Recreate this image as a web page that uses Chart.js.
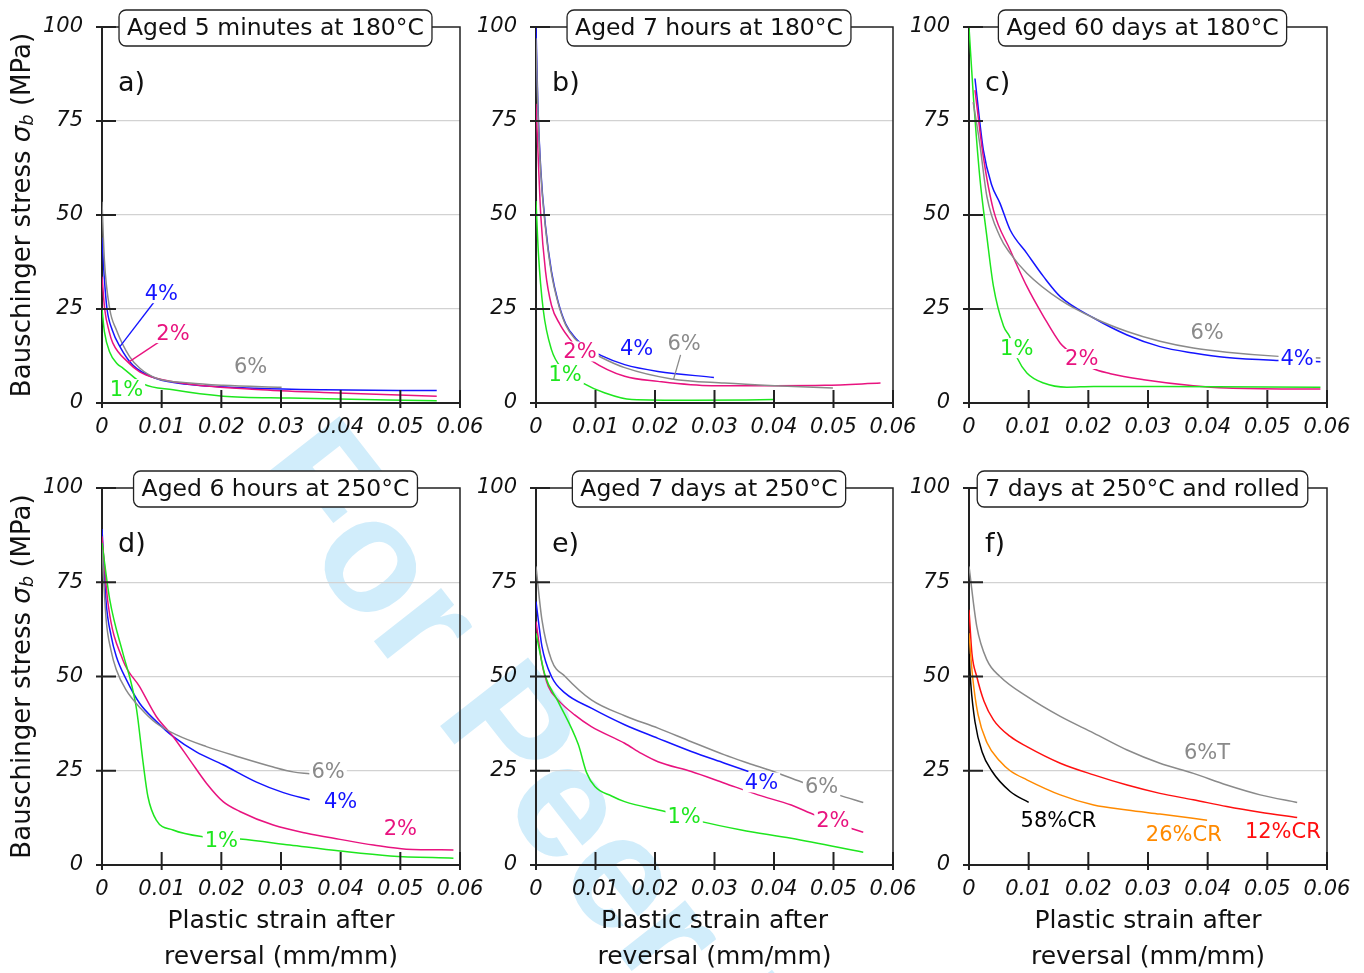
<!DOCTYPE html>
<html>
<head>
<meta charset="utf-8">
<script src="https://cdn.jsdelivr.net/npm/chart.js@4.4.1/dist/chart.umd.min.js"></script>
<style>
  body { margin: 0; width: 1364px; height: 973px; overflow: hidden; background: #fff; position: relative; }
  canvas { position: absolute; left: 0; top: 0; }
  #wm {
    position: absolute; left: 353px; top: 392px;
    transform-origin: 0 0; transform: rotate(52deg);
    font: bold 162px "Liberation Sans", Arial, sans-serif; line-height: 1;
    color: #d1edfb; white-space: nowrap;
  }
</style>
</head>
<body>
<div id="wm">For Peer Review</div>
<canvas id="c0" width="1364" height="973"></canvas>
<canvas id="c1" width="1364" height="973"></canvas>
<canvas id="c2" width="1364" height="973"></canvas>
<canvas id="c3" width="1364" height="973"></canvas>
<canvas id="c4" width="1364" height="973"></canvas>
<canvas id="c5" width="1364" height="973"></canvas>
<script>
// =========================
// DATA  [strain (mm/mm), Bauschinger stress (MPa)]
// =========================
const xTickValues = [0, 0.01, 0.02, 0.03, 0.04, 0.05, 0.06];
const xTickLabels = ["0", "0.01", "0.02", "0.03", "0.04", "0.05", "0.06"];
const yTickValues = [0, 25, 50, 75, 100];
const yTickLabels = ["0", "25", "50", "75", "100"];

// a) aged 5 minutes at 180°C
const a1 = [[0,25],[0.0004,19],[0.0013,13.5],[0.0025,10.5],[0.0035,9.3],[0.0069,5.1],[0.0119,3.5],[0.0203,1.8],[0.0315,1.3],[0.0561,0.6]];
const a2 = [[0,33.6],[0.00045,25],[0.0012,19],[0.0018,16],[0.0044,10.8],[0.0063,8.3],[0.0091,6.6],[0.0147,5.0],[0.0259,3.6],[0.0371,2.8],[0.0561,1.8]];
const a4 = [[0,44],[0.0004,33],[0.00084,25],[0.0017,19.5],[0.003,15],[0.0052,10],[0.0091,6.5],[0.0147,4.9],[0.0259,3.9],[0.0371,3.5],[0.0561,3.3]];
const a6 = [[0,53.5],[0.0004,38],[0.0013,25],[0.0024,19.5],[0.0046,12.4],[0.0063,9.3],[0.0091,6.6],[0.0147,5.3],[0.0203,4.7],[0.0301,4.2]];

// b) aged 7 hours at 180°C
const b1 = [[0,53.7],[0.0004,40],[0.0012,25],[0.0026,14.2],[0.0045,9],[0.0079,5.3],[0.0116,2.65],[0.0161,0.9],[0.0261,0.7],[0.0399,0.9]];
const b2 = [[0,79.6],[0.0003,68],[0.0008,50],[0.0016,35],[0.0026,26],[0.004,21],[0.0054,17.6],[0.0074,13.8],[0.0093,11.3],[0.0149,7.1],[0.0205,5.75],[0.0295,4.6],[0.0401,4.6],[0.0485,4.7],[0.0579,5.3]];
const b4 = [[0,100],[0.0003,80],[0.0008,62],[0.0016,47],[0.0026,35],[0.0037,27],[0.005,21],[0.0066,17.3],[0.0085,14.8],[0.011,12.6],[0.0149,10.2],[0.0205,8.4],[0.0299,6.8]];
const b6 = [[0,97],[0.0003,79],[0.0008,61.5],[0.0016,46.5],[0.0026,34.5],[0.0037,26.7],[0.005,20.7],[0.0066,17],[0.0085,14.4],[0.011,12.1],[0.0149,9.4],[0.0228,6.4],[0.0317,5.3],[0.0401,4.6],[0.0499,4.0]];

// c) aged 60 days at 180°C
const c1 = [[0,100],[0.0007,82.3],[0.0018,60.2],[0.003,44.2],[0.0041,31],[0.0058,20.4],[0.0068,17.7],[0.0081,11.9],[0.0097,8],[0.0125,5.3],[0.0164,4.2],[0.0209,4.4],[0.0321,4.4],[0.0589,4.2]];
const c2 = [[0.001,83.2],[0.0024,65.5],[0.0041,51.3],[0.0069,40.7],[0.0097,31],[0.0125,23],[0.0153,15.9],[0.0164,14.2],[0.0206,9.3],[0.0237,7.8],[0.0293,6.2],[0.0376,4.6],[0.0432,4.0],[0.0589,3.7]];
const c4 = [[0.001,86.3],[0.0024,67.3],[0.0038,58],[0.0052,53.1],[0.0069,46],[0.0097,39.8],[0.0125,33.6],[0.0153,28.3],[0.0209,22.6],[0.0265,18.1],[0.032,15],[0.0376,13.3],[0.0432,12.1],[0.0519,11.3],[0.0589,11.0]];
const c6 = [[0.0007,80],[0.0018,69],[0.003,54.9],[0.0052,44.2],[0.0069,39.8],[0.0097,34.5],[0.0153,27.4],[0.0209,22.6],[0.0265,19.0],[0.032,16.4],[0.0376,14.6],[0.0432,13.5],[0.0519,12.4],[0.0589,12.0]];

// d) aged 6 hours at 250°C
const d1 = [[0,85.4],[0.0013,70.4],[0.0035,56.2],[0.0049,48.2],[0.0058,41.2],[0.0069,27],[0.0077,18.1],[0.0091,11.9],[0.0119,9.3],[0.0169,7.5],[0.0231,6.9],[0.0315,5.3],[0.0399,3.7],[0.0483,2.4],[0.0589,1.8]];
const d2 = [[0,87.2],[0.001,69.5],[0.0035,54.4],[0.0063,47.3],[0.0091,39.4],[0.0119,34.1],[0.0147,27.9],[0.0175,21.7],[0.0203,16.8],[0.0231,14.2],[0.0287,10.6],[0.0343,8.4],[0.0399,6.8],[0.0455,5.3],[0.051,4.2],[0.0589,4.0]];
const d4 = [[0,89.1],[0.0007,69.5],[0.0015,61],[0.0024,55.3],[0.0041,49.1],[0.0063,42.9],[0.0091,38.1],[0.0119,34.1],[0.0158,30.0],[0.0203,26.6],[0.0259,22.0],[0.0304,19.2],[0.0348,17.3]];
const d6 = [[0,83.6],[0.0007,65],[0.0015,57],[0.0024,51.8],[0.004,46.5],[0.0065,41.5],[0.0091,37.6],[0.0125,34.5],[0.0175,31.4],[0.0231,28.6],[0.0287,26.0],[0.032,24.7],[0.0348,24.2]];

// e) aged 7 days at 250°C
const e1 = [[0,61.5],[0.0015,50.4],[0.0037,43.4],[0.0071,32],[0.0085,24.5],[0.0099,20.8],[0.0127,18.3],[0.0149,16.8],[0.0217,14.2],[0.0278,11.5],[0.0345,9.3],[0.0429,7.1],[0.055,3.4]];
const e2 = [[0,64.6],[0.001,53.5],[0.0021,47.3],[0.0037,43.8],[0.0065,39.8],[0.0093,36.7],[0.0149,32.3],[0.0177,29.6],[0.0205,27.4],[0.0261,24.8],[0.0317,21.7],[0.0373,18.6],[0.0429,15.9],[0.0468,13.3],[0.053,9.7],[0.055,8.7]];
const e4 = [[0,69.9],[0.001,58],[0.0026,50],[0.0049,45.6],[0.0093,41.6],[0.0149,37.2],[0.0205,33.6],[0.0261,30.1],[0.0317,27],[0.0357,24.8]];
const e6 = [[0,79.2],[0.001,65],[0.0026,54.4],[0.0049,50],[0.0093,43.8],[0.0149,39.6],[0.0205,36.3],[0.0261,32.7],[0.0317,29.2],[0.0357,27],[0.0399,24.8],[0.0452,21.7],[0.0508,18.6],[0.055,16.6]];

// f) 7 days at 250°C and rolled
const f58 = [[0,56],[0.0003,48],[0.001,38],[0.0022,30],[0.0038,25],[0.0069,19.5],[0.01,16.6]];
const f26 = [[0,61.5],[0.0006,50],[0.0015,40],[0.003,32.5],[0.0052,27.5],[0.0069,25],[0.0097,22.6],[0.0153,18.6],[0.0209,15.9],[0.0265,14.6],[0.032,13.5],[0.0399,11.9]];
const f12 = [[0,67.7],[0.0005,56],[0.0013,50],[0.0025,43.5],[0.0041,38.5],[0.0069,34.1],[0.0097,31.4],[0.0153,27],[0.0209,23.9],[0.0265,21.2],[0.032,19],[0.0376,17.3],[0.0432,15.5],[0.0488,14],[0.055,12.6]];
const f6T = [[0,79.2],[0.0013,63.3],[0.003,54.4],[0.0052,50],[0.0097,44.7],[0.0153,39.4],[0.0209,35],[0.0265,30.5],[0.032,27],[0.0376,24.3],[0.0432,21.2],[0.0488,18.6],[0.055,16.6]];

// =========================
// STYLE
// =========================
const GREEN = "#1ee61e", PINK = "#e8137f", BLUE = "#1414ff", GRAY = "#8a8a8a";
const RED = "#ff1010", ORANGE = "#ff8a00", BLACK = "#000000";
const FONT = "'DejaVu Sans', sans-serif";

const W = 1364, H = 973;
const COLS = [[102, 460], [536, 893], [969, 1327]];
const ROWS = [[27, 403], [488, 865]];
const YW = 100, XH = 45;

const panels = [
  { title: "Aged 5 minutes at 180°C", letter: "a)",
    series: [[a6, GRAY], [a1, GREEN], [a2, PINK], [a4, BLUE]],
    tags: [
      { t: "4%", c: BLUE, at: [0.00995, 29.2], leader: [[0.0088, 27], [0.003, 15]] },
      { t: "2%", c: PINK, at: [0.0119, 18.6], leader: [[0.0097, 16.4], [0.0044, 10.8]] },
      { t: "6%", c: GRAY, at: [0.0249, 9.7] },
      { t: "1%", c: GREEN, at: [0.0041, 3.7] }
    ] },
  { title: "Aged 7 hours at 180°C", letter: "b)",
    series: [[b6, GRAY], [b1, GREEN], [b2, PINK], [b4, BLUE]],
    tags: [
      { t: "4%", c: BLUE, at: [0.0169, 14.6] },
      { t: "6%", c: GRAY, at: [0.0249, 15.9], leader: [[0.0243, 12.8], [0.0231, 6.2]] },
      { t: "2%", c: PINK, at: [0.0074, 13.7] },
      { t: "1%", c: GREEN, at: [0.0049, 7.7] }
    ] },
  { title: "Aged 60 days at 180°C", letter: "c)",
    series: [[c6, GRAY], [c1, GREEN], [c2, PINK], [c4, BLUE]],
    tags: [
      { t: "6%", c: GRAY, at: [0.0399, 18.8] },
      { t: "4%", c: BLUE, at: [0.055, 11.7] },
      { t: "1%", c: GREEN, at: [0.008, 14.6] },
      { t: "2%", c: PINK, at: [0.0189, 11.7] }
    ] },
  { title: "Aged 6 hours at 250°C", letter: "d)",
    series: [[d6, GRAY], [d1, GREEN], [d2, PINK], [d4, BLUE]],
    tags: [
      { t: "6%", c: GRAY, at: [0.0379, 24.8] },
      { t: "4%", c: BLUE, at: [0.040, 16.8] },
      { t: "2%", c: PINK, at: [0.050, 9.7] },
      { t: "1%", c: GREEN, at: [0.020, 6.6] }
    ] },
  { title: "Aged 7 days at 250°C", letter: "e)",
    series: [[e6, GRAY], [e1, GREEN], [e2, PINK], [e4, BLUE]],
    tags: [
      { t: "4%", c: BLUE, at: [0.0379, 21.9] },
      { t: "6%", c: GRAY, at: [0.048, 20.8] },
      { t: "2%", c: PINK, at: [0.0499, 11.9] },
      { t: "1%", c: GREEN, at: [0.0249, 12.8] }
    ] },
  { title: "7 days at 250°C and rolled", letter: "f)",
    series: [[f6T, GRAY], [f58, BLACK], [f26, ORANGE], [f12, RED]],
    tags: [
      { t: "6%T", c: GRAY, at: [0.0399, 29.8] },
      { t: "58%CR", c: BLACK, at: [0.015, 11.8] },
      { t: "26%CR", c: ORANGE, at: [0.036, 8.0] },
      { t: "12%CR", c: RED, at: [0.0526, 8.8] }
    ] }
];

// =========================
// DECORATION PLUGIN (frame, ticks, title box, labels)
// =========================
const deco = {
  id: "deco",
  afterDraw(chart, args, o) {
    const ctx = chart.ctx;
    const { left: L, right: R, top: T, bottom: B } = chart.chartArea;
    const xs = chart.scales.x, ys = chart.scales.y;
    ctx.save();

    // top + right frame
    ctx.strokeStyle = "#222"; ctx.lineWidth = 1.5;
    ctx.beginPath(); ctx.moveTo(L, T); ctx.lineTo(R, T); ctx.lineTo(R, B); ctx.stroke();

    // tick marks crossing the axes
    ctx.strokeStyle = "#222"; ctx.lineWidth = 2;
    ctx.beginPath();
    ys.ticks.forEach(t => { const p = ys.getPixelForValue(t.value); ctx.moveTo(L - 6, p); ctx.lineTo(L + 14, p); });
    xs.ticks.forEach(t => { const p = xs.getPixelForValue(t.value); ctx.moveTo(p, B - 13); ctx.lineTo(p, B + 5); });
    ctx.stroke();

    // leader lines + curve labels
    ctx.lineWidth = 1.3;
    o.tags.forEach(tag => {
      if (!tag.leader) return;
      ctx.strokeStyle = tag.c;
      ctx.beginPath();
      ctx.moveTo(xs.getPixelForValue(tag.leader[0][0]), ys.getPixelForValue(tag.leader[0][1]));
      ctx.lineTo(xs.getPixelForValue(tag.leader[1][0]), ys.getPixelForValue(tag.leader[1][1]));
      ctx.stroke();
    });
    ctx.font = "21px " + FONT;
    ctx.textAlign = "center"; ctx.textBaseline = "middle";
    o.tags.forEach(tag => {
      const px = xs.getPixelForValue(tag.at[0]), py = ys.getPixelForValue(tag.at[1]);
      const w = ctx.measureText(tag.t).width;
      ctx.fillStyle = "#fff";
      ctx.fillRect(px - w / 2 - 2, py - 10, w + 4, 20);
      ctx.fillStyle = tag.c;
      ctx.fillText(tag.t, px, py + 1);
    });

    // panel letter
    ctx.fillStyle = "#111"; ctx.textAlign = "left"; ctx.textBaseline = "alphabetic";
    ctx.font = "27px " + FONT;
    ctx.fillText(o.letter, L + 16, T + 64);

    // title box on the top frame
    ctx.font = "23.5px " + FONT;
    const tw = ctx.measureText(o.title).width;
    const cx = (L + R) / 2 - 5.5, bw = tw + 16, bh = 36;
    ctx.beginPath();
    ctx.roundRect(cx - bw / 2, T + 1 - bh / 2, bw, bh, 7);
    ctx.fillStyle = "#fff"; ctx.fill();
    ctx.strokeStyle = "#222"; ctx.lineWidth = 1.3; ctx.stroke();
    ctx.fillStyle = "#111"; ctx.textAlign = "center";
    ctx.fillText(o.title, cx, T + 8);

    // y axis title (left column only)
    if (o.yTitle) {
      ctx.save();
      ctx.translate(23, (T + B) / 2);
      ctx.rotate(-Math.PI / 2);
      ctx.textAlign = "left"; ctx.textBaseline = "middle";
      const parts = [
        ["Bauschinger stress ", "26px " + FONT, 0],
        ["σ", "italic 26px " + FONT, 0],
        ["b", "italic 18px " + FONT, 5],
        [" (MPa)", "26px " + FONT, 0]
      ];
      let total = 0;
      parts.forEach(p => { ctx.font = p[1]; total += ctx.measureText(p[0]).width; });
      let x0 = -total / 2;
      parts.forEach(p => { ctx.font = p[1]; ctx.fillText(p[0], x0, p[2]); x0 += ctx.measureText(p[0]).width; });
      ctx.restore();
    }

    // x axis title (bottom row only)
    if (o.xTitle) {
      ctx.font = "25px " + FONT; ctx.textAlign = "center"; ctx.textBaseline = "middle";
      ctx.fillText("Plastic strain after", (L + R) / 2, B + 56);
      ctx.fillText("reversal (mm/mm)", (L + R) / 2, B + 92);
    }
    ctx.restore();
  }
};

// =========================
// BUILD THE SIX PANELS
// =========================
panels.forEach((p, i) => {
  const [L, R] = COLS[i % 3];
  const [T, B] = ROWS[Math.floor(i / 3)];

  new Chart(document.getElementById("c" + i), {
    type: "line",
    data: {
      datasets: p.series.map(s => ({
        data: s[0].map(pt => ({ x: pt[0], y: pt[1] })),
        borderColor: s[1],
        borderWidth: 1.5,
        pointRadius: 0,
        cubicInterpolationMode: "monotone",
        fill: false
      }))
    },
    options: {
      responsive: false,
      animation: false,
      events: [],
      layout: { padding: { left: L - YW, right: W - R, top: T, bottom: H - B - XH } },
      plugins: {
        legend: { display: false },
        tooltip: { enabled: false },
        deco: { title: p.title, letter: p.letter, tags: p.tags, yTitle: i % 3 === 0, xTitle: i >= 3 }
      },
      scales: {
        x: {
          type: "linear", min: 0, max: 0.06,
          afterBuildTicks: s => { s.ticks = xTickValues.map(v => ({ value: v })); },
          afterFit: s => { s.height = XH; s.paddingLeft = 0; s.paddingRight = 0; },
          ticks: {
            callback: (v, idx) => xTickLabels[idx],
            font: { family: FONT, size: 21, style: "italic" },
            color: "#111", padding: 12, maxRotation: 0, autoSkip: false
          },
          grid: { display: false, drawTicks: false },
          border: { color: "#222", width: 2 }
        },
        y: {
          type: "linear", min: 0, max: 100,
          afterBuildTicks: s => { s.ticks = yTickValues.map(v => ({ value: v })); },
          afterFit: s => { s.width = YW; s.paddingTop = 0; s.paddingBottom = 0; },
          ticks: {
            callback: (v, idx) => yTickLabels[idx],
            font: { family: FONT, size: 21, style: "italic" },
            color: "#111", padding: 19
          },
          grid: {
            color: c => (c.tick && c.tick.value > 0 && c.tick.value < 100) ? "#d2d2d2" : "rgba(0,0,0,0)",
            lineWidth: 1.2, drawTicks: false
          },
          border: { color: "#222", width: 2 }
        }
      }
    },
    plugins: [deco]
  });
});
</script>
</body>
</html>
